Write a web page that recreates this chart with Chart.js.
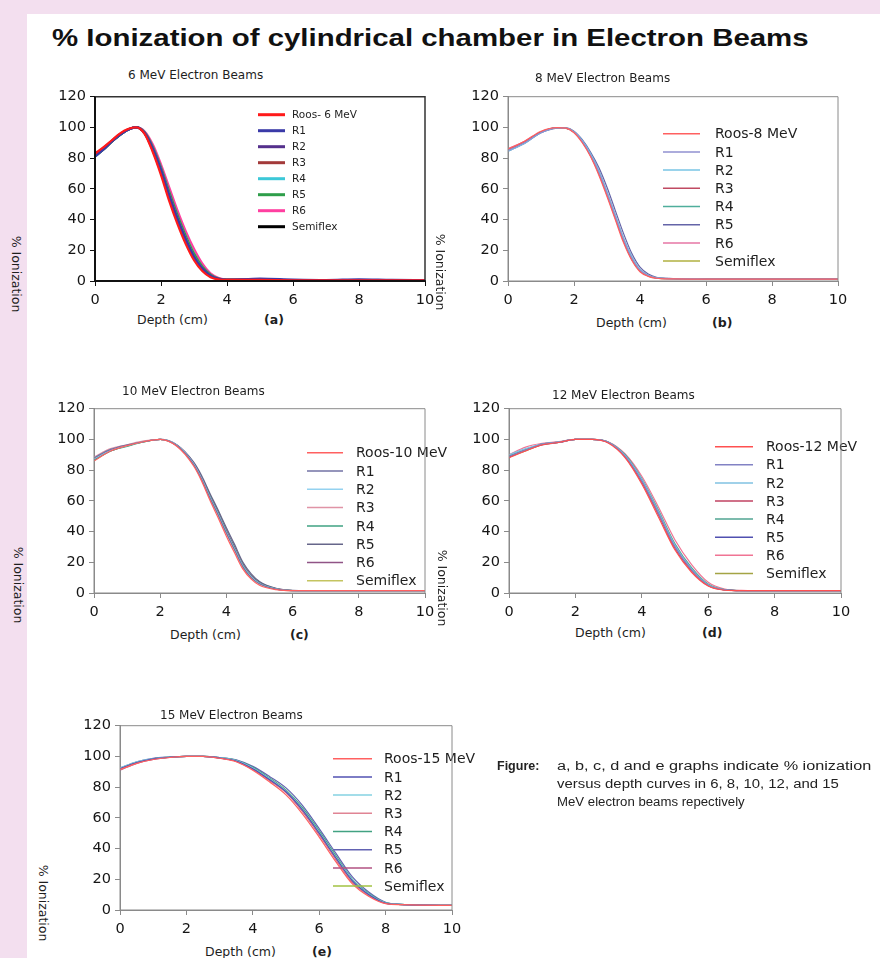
<!DOCTYPE html>
<html lang="en">
<head>
<meta charset="UTF-8">
<title>% Ionization of cylindrical chamber in Electron Beams</title>
<script src="https://cdn.jsdelivr.net/npm/chart.js"></script>
<style>
  html, body { margin: 0; padding: 0; }
  body {
    width: 880px; height: 958px; position: relative; overflow: hidden;
    background: #f3dfef; font-family: "DejaVu Sans", sans-serif; color: #1e1e1e;
  }
  .sheet { position: absolute; left: 27px; top: 14px; right: 0; bottom: 0; background: #fff; }
  canvas { position: absolute; }
  .t { position: absolute; white-space: nowrap; line-height: 1; }
  .main { font: bold 24px "Liberation Sans", Arial, sans-serif; color: #111; transform-origin: 0 50%; }
  .ptitle { font-size: 12px; }
  .xlab { font-size: 12.5px; }
  .tag { font-size: 12.5px; font-weight: bold; }
  .ylab { font-size: 12.5px; transform: translate(-50%, -50%) rotate(90deg); }
  .cap { font: 12px "Liberation Sans", Arial, sans-serif; color: #222; transform-origin: 0 50%; }
  .cap b { font-weight: bold; font-size: 12.5px; }
</style>
</head>
<body>
<div class="sheet"></div>

<canvas id="c6"></canvas>
<canvas id="c8"></canvas>
<canvas id="c10"></canvas>
<canvas id="c12"></canvas>
<canvas id="c15"></canvas>

<div class="t main" id="mainTitle" style="left:52px; top:24px;">% Ionization of cylindrical chamber in Electron Beams</div>

<div class="t ptitle" style="left:128px; top:69px;">6 MeV Electron Beams</div>
<div class="t ptitle" style="left:535px; top:72px;">8 MeV Electron Beams</div>
<div class="t ptitle" style="left:122px; top:385px;">10 MeV Electron Beams</div>
<div class="t ptitle" style="left:552px; top:389px;">12 MeV Electron Beams</div>
<div class="t ptitle" style="left:160px; top:709px;">15 MeV Electron Beams</div>

<div class="t xlab" style="left:137px; top:314px;">Depth (cm)</div>
<div class="t tag" style="left:264px; top:314px;">(a)</div>
<div class="t xlab" style="left:596px; top:317px;">Depth (cm)</div>
<div class="t tag" style="left:712px; top:317px;">(b)</div>
<div class="t xlab" style="left:170px; top:629px;">Depth (cm)</div>
<div class="t tag" style="left:290px; top:629px;">(c)</div>
<div class="t xlab" style="left:575px; top:627px;">Depth (cm)</div>
<div class="t tag" style="left:702px; top:627px;">(d)</div>
<div class="t xlab" style="left:205px; top:946px;">Depth (cm)</div>
<div class="t tag" style="left:312px; top:946px;">(e)</div>

<div class="t ylab" style="left:16px; top:274px;">% Ionization</div>
<div class="t ylab" style="left:440px; top:272px;">% Ionization</div>
<div class="t ylab" style="left:18px; top:585px;">% Ionization</div>
<div class="t ylab" style="left:442px; top:588px;">% Ionization</div>
<div class="t ylab" style="left:43px; top:903px;">% Ionization</div>

<div class="t cap" style="left:497px; top:759px;"><b>Figure:</b></div>
<div class="t cap fit" data-w="314" style="left:557px; top:759px;">a, b, c, d and e graphs indicate % ionization</div>
<div class="t cap fit" data-w="282" style="left:557px; top:777px;">versus depth curves in 6, 8, 10, 12, and 15</div>
<div class="t cap fit" data-w="188" style="left:557px; top:795px;">MeV electron beams repectively</div>

<script>
// ---- data (depth in cm, % ionization) ----
const seriesNames = ['R1', 'R2', 'R3', 'R4', 'R5', 'R6', 'Semiflex'];

const depth6 = [0, 0.25, 0.5, 0.75, 1, 1.25, 1.5, 1.75, 2, 2.25, 2.5, 2.75, 3, 3.25, 3.5, 3.75, 4, 5, 6, 7, 8, 9, 10];
const roos6 = [83, 87, 91.5, 96, 99, 100, 96, 84, 69, 52, 37, 24, 13.5, 6.5, 2.5, 1, 0.7, 0.7, 0.5, 0.5, 0.5, 0.5, 0.5];
const r1_6  = [81, 85.5, 90.5, 95, 98.5, 100, 96.5, 86, 72, 55, 40, 26.5, 15.5, 8, 3.3, 1.3, 0.8, 1.5, 0.9, 0.6, 1.1, 0.7, 0.6];
const r2_6  = [82, 86, 91, 95.5, 98.5, 100, 96.5, 86.5, 72.5, 56, 41, 27.5, 16, 8.3, 3.5, 1.4, 0.8, 0.9, 0.6, 0.5, 0.6, 0.5, 0.5];
const r3_6  = [82.5, 86.5, 91, 95.5, 98.8, 100, 96, 85, 70.5, 54, 39, 25.5, 14.5, 7.2, 3, 1.1, 0.8, 0.8, 0.5, 0.5, 0.5, 0.5, 0.5];
const r4_6  = [81.5, 86, 91, 95.5, 98.5, 100, 96.8, 86.5, 72.5, 56, 41, 27.5, 16, 8.2, 3.4, 1.3, 0.8, 0.8, 0.5, 0.5, 0.5, 0.5, 0.5];
const r5_6  = [81, 85.5, 90.5, 95, 98.5, 100, 97, 87.5, 74, 58, 43, 29.5, 18, 9.5, 4.2, 1.6, 0.9, 0.8, 0.5, 0.5, 0.5, 0.5, 0.5];
const r6_6  = [82, 86, 91, 95.5, 98.5, 100, 97.5, 89, 76, 61, 46, 32.5, 21, 11.5, 5, 2, 1, 0.8, 0.5, 0.5, 0.5, 0.5, 0.5];
const semi6 = [81.5, 85.5, 90.5, 95, 98.5, 100, 96.5, 86, 72, 55.5, 40.5, 27, 15.5, 7.8, 3.2, 1.2, 0.8, 0.8, 0.5, 0.5, 0.5, 0.5, 0.5];

const depth8 = [0, 0.5, 1, 1.5, 1.75, 2, 2.25, 2.5, 2.75, 3, 3.25, 3.5, 3.75, 4, 4.25, 4.5, 5, 6, 7, 8, 9, 10];
const roos8 = [86, 91, 97.5, 99.8, 99.5, 96.5, 90, 81, 69, 55, 40, 25, 13.5, 6, 3, 1.8, 1.4, 1.2, 1.2, 1.2, 1.2, 1.2];
const r1_8  = [85, 90, 96.5, 99.8, 99.6, 97, 91, 82, 71, 57, 42, 27, 15, 7, 3.5, 2, 1.5, 1.2, 1.2, 1.2, 1.2, 1.2];
const r2_8  = [84.5, 89.5, 96.5, 99.7, 99.6, 97.2, 91.5, 83, 72, 58, 43, 28, 16, 7.5, 3.8, 2.1, 1.5, 1.3, 1.2, 1.2, 1.2, 1.2];
const r3_8  = [85.5, 90.5, 97, 99.8, 99.5, 96.8, 90.5, 81.5, 70, 56, 41, 26, 14, 6.5, 3.2, 1.9, 1.5, 1.2, 1.2, 1.2, 1.2, 1.2];
const r4_8  = [85, 90, 96.8, 99.8, 99.6, 97, 91, 82.5, 71.5, 57.5, 42.5, 27.5, 15.5, 7.2, 3.6, 2, 1.5, 1.2, 1.2, 1.2, 1.2, 1.2];
const r5_8  = [84.5, 89.5, 96.5, 99.6, 99.7, 97.5, 92, 84, 74, 61, 46, 31, 18, 9, 4.5, 2.4, 1.6, 1.3, 1.2, 1.2, 1.2, 1.2];
const r6_8  = [86, 91, 97, 99.7, 99.6, 97.2, 91.5, 83, 72, 58, 43, 28, 16, 7.5, 3.6, 2, 1.5, 1.2, 1.2, 1.2, 1.2, 1.2];
const semi8 = [85, 90, 96.8, 99.8, 99.5, 97, 91, 82, 70.5, 56.5, 41.5, 26.5, 14.5, 6.8, 3.4, 1.9, 1.5, 1.2, 1.2, 1.2, 1.2, 1.2];

const depth10 = [0, 0.5, 1, 1.5, 2, 2.5, 3, 3.25, 3.5, 3.75, 4, 4.25, 4.5, 4.75, 5, 5.5, 6, 7, 8, 9, 10];
const roos10 = [86, 92.5, 96, 98.5, 100, 95.5, 83, 73, 60.5, 49, 37, 26, 15.5, 9, 5, 2.2, 1.5, 1.5, 1.5, 1.5, 1.5];
const r1_10  = [88, 93.5, 96.5, 98.5, 100, 96, 84, 74, 62, 51, 39, 28, 17, 10, 6, 2.5, 1.6, 1.5, 1.5, 1.5, 1.5];
const r2_10  = [87.5, 93, 96, 98.5, 100, 96.2, 84.5, 74.5, 62.5, 51.5, 39.5, 28.5, 17.5, 10.5, 6.2, 2.6, 1.6, 1.5, 1.5, 1.5, 1.5];
const r3_10  = [88.5, 94, 96.5, 99, 100, 96, 84, 74, 62, 51, 39, 28, 17, 10, 6, 2.5, 1.5, 1.5, 1.5, 1.5, 1.5];
const r4_10  = [86.5, 92.5, 95.5, 98.3, 100, 96, 84, 74.5, 63, 52, 40, 29, 18, 10.8, 6.5, 2.7, 1.6, 1.5, 1.5, 1.5, 1.5];
const r5_10  = [87, 92.5, 96, 98.5, 100, 96.5, 85.5, 76.5, 65, 54, 42.5, 31.5, 20, 12.5, 7.5, 3, 1.7, 1.5, 1.5, 1.5, 1.5];
const r6_10  = [87, 93, 96, 98.5, 100, 96.3, 85, 75.5, 64, 53, 41, 30, 19, 11.5, 7, 2.8, 1.6, 1.5, 1.5, 1.5, 1.5];
const semi10 = [86.5, 92.5, 95.8, 98.3, 100, 96, 84, 74, 62, 51, 39, 28, 17, 10, 6, 2.5, 1.5, 1.5, 1.5, 1.5, 1.5];

const depth12 = [0, 0.5, 1, 1.5, 2, 2.5, 3, 3.5, 4, 4.5, 5, 5.5, 6, 6.5, 7, 8, 9, 10];
const roos12 = [88, 92.5, 96.5, 98, 100, 100, 97.5, 88, 71, 49.5, 28, 13.5, 4.5, 1.8, 1.5, 1.5, 1.5, 1.5];
const r1_12  = [89, 93, 97, 98.2, 100, 100, 98, 89, 73, 52, 30, 15, 5, 2, 1.5, 1.5, 1.5, 1.5];
const r2_12  = [90, 94, 97, 98.2, 100, 100, 98, 89.5, 74, 53, 31, 15.5, 5.3, 2.1, 1.5, 1.5, 1.5, 1.5];
const r3_12  = [88.5, 93, 96.5, 98, 100, 100, 97.8, 88.5, 72, 51, 29, 14.5, 4.8, 2, 1.5, 1.5, 1.5, 1.5];
const r4_12  = [89.5, 93.5, 97, 98.2, 100, 100, 98.2, 90, 74.5, 54, 32, 16.5, 5.8, 2.2, 1.6, 1.5, 1.5, 1.5];
const r5_12  = [89, 93, 97, 98, 100, 100, 98, 89, 73.5, 52.5, 30.5, 15.2, 5.2, 2, 1.5, 1.5, 1.5, 1.5];
const r6_12  = [90, 95, 97.5, 98.5, 100, 100, 98.3, 90.5, 76, 56, 34.5, 18.5, 7, 2.6, 1.7, 1.5, 1.5, 1.5];
const semi12 = [88.5, 92.5, 96.5, 98, 100, 100, 98, 89.5, 74, 53, 31, 15.5, 5.2, 2, 1.5, 1.5, 1.5, 1.5];

const depth15 = [0, 0.5, 1, 1.5, 2, 2.5, 3, 3.5, 4, 4.5, 5, 5.5, 6, 6.5, 7, 7.5, 8, 8.5, 9, 10];
const roos15 = [91.5, 95.5, 98, 99.3, 100, 100, 98.8, 96.5, 91, 83.5, 75, 62.5, 47.5, 31.5, 17, 8.8, 4.2, 3.5, 3.2, 3];
const r1_15  = [92, 96, 98.4, 99.5, 100, 100, 99, 97, 92, 85, 77, 65, 50, 34, 19, 10, 4.5, 3.5, 3.2, 3];
const r2_15  = [92.5, 96.5, 98.6, 99.6, 100, 100, 99.2, 97.3, 92.5, 85.5, 77.5, 65.5, 50.5, 34.5, 19.5, 10.3, 4.6, 3.5, 3.2, 3];
const r3_15  = [91.5, 95.5, 98.2, 99.4, 100, 100, 99, 97, 92, 85, 76.5, 64.5, 49.5, 33.5, 18.5, 9.7, 4.4, 3.5, 3.2, 3];
const r4_15  = [92, 96.2, 98.5, 99.5, 100, 100, 99.2, 97.5, 93, 86, 78, 66.5, 51.5, 35.5, 20, 10.8, 4.8, 3.6, 3.2, 3];
const r5_15  = [92.5, 96.5, 98.8, 99.6, 100, 100, 99.3, 97.8, 93.5, 87, 79.5, 68, 53, 37, 21.5, 11.5, 5, 3.7, 3.3, 3];
const r6_15  = [91, 95.5, 98, 99.3, 100, 100, 98.8, 96.8, 91.5, 84.5, 76.5, 64, 49, 33, 18, 9.5, 4.3, 3.5, 3.2, 3];
const semi15 = [92, 96, 98.5, 99.5, 100, 100, 99, 97.2, 92.5, 86, 78, 66, 51, 35, 19.5, 10.2, 4.6, 3.5, 3.2, 3];

// ---- colours ----
const colors6  = ['#ff1a1a', '#3a3aa8', '#55308c', '#a33a3a', '#3cc8d8', '#2f9e4a', '#ff3fa0', '#000000'];
const colors8  = ['#ff6060', '#9090d0', '#78c4e4', '#c04a62', '#4fae9c', '#6464a8', '#e676a4', '#b0b040'];
const colors10 = ['#ff6060', '#7272a4', '#94d2f0', '#e094a6', '#3fa282', '#66668a', '#905486', '#c4c460'];
const colors12 = ['#ff5050', '#8282c4', '#80c2e2', '#c04262', '#50a492', '#5050b0', '#f07494', '#a4a444'];
const colors15 = ['#ff6060', '#5252b2', '#84d2e2', '#e08494', '#42a282', '#6262b2', '#b25282', '#a2c242'];

// ---- plugins ----
const framePlugin = {
  id: 'frame',
  afterDraw(chart, args, o) {
    const { left, top, right, bottom } = chart.chartArea;
    const ctx = chart.ctx;
    ctx.save();
    ctx.strokeStyle = o.trColor; ctx.lineWidth = o.trWidth;
    ctx.beginPath();
    ctx.moveTo(left, top); ctx.lineTo(right, top); ctx.lineTo(right, bottom);
    ctx.stroke();
    ctx.strokeStyle = o.lbColor; ctx.lineWidth = o.lbWidth;
    ctx.beginPath();
    ctx.moveTo(left, top); ctx.lineTo(left, bottom); ctx.lineTo(right, bottom);
    ctx.stroke();
    ctx.restore();
  }
};

// legend drawn inside the plot like the original
const boxLegend = {
  id: 'boxLegend',
  afterDatasetsDraw(chart, args, o) {
    const a = chart.chartArea, ctx = chart.ctx;
    ctx.save();
    ctx.font = o.font;
    ctx.textBaseline = 'middle';
    chart.data.datasets.forEach((ds, i) => {
      const y = a.top + o.y0 + i * o.dy;
      ctx.strokeStyle = ds.borderColor;
      ctx.lineWidth = o.lw;
      ctx.beginPath();
      ctx.moveTo(a.left + o.x1, y); ctx.lineTo(a.left + o.x2, y);
      ctx.stroke();
      ctx.fillStyle = '#1e1e1e';
      ctx.fillText(ds.label, a.left + o.tx, y + 1);
    });
    ctx.restore();
  }
};

// plot rect = [left, top, right, bottom] on the page
const panels = [
  { id: 'c6', rect: [95, 96, 425, 281], depth: depth6, series: [roos6, r1_6, r2_6, r3_6, r4_6, r5_6, r6_6, semi6],
    roos: 'Roos- 6 MeV', colors: colors6, lw: 2.2, heavy: true,
    legend: { x1: 163, x2: 190, tx: 197, y0: 18, dy: 16, lw: 3, font: '10.5px "DejaVu Sans"' } },
  { id: 'c8', rect: [508, 96, 838, 281], depth: depth8, series: [roos8, r1_8, r2_8, r3_8, r4_8, r5_8, r6_8, semi8],
    roos: 'Roos-8 MeV', colors: colors8, lw: 1.2,
    legend: { x1: 155, x2: 192, tx: 207, y0: 37, dy: 18.2, lw: 1.5, font: '14px "DejaVu Sans"' } },
  { id: 'c10', rect: [94, 408, 425, 593], depth: depth10, series: [roos10, r1_10, r2_10, r3_10, r4_10, r5_10, r6_10, semi10],
    roos: 'Roos-10 MeV', colors: colors10, lw: 1.2,
    legend: { x1: 213, x2: 249, tx: 262, y0: 44, dy: 18.3, lw: 1.5, font: '14px "DejaVu Sans"' } },
  { id: 'c12', rect: [509, 408, 841, 593], depth: depth12, series: [roos12, r1_12, r2_12, r3_12, r4_12, r5_12, r6_12, semi12],
    roos: 'Roos-12 MeV', colors: colors12, lw: 1.2,
    legend: { x1: 206, x2: 244, tx: 257, y0: 38, dy: 18.1, lw: 1.5, font: '14px "DejaVu Sans"' } },
  { id: 'c15', rect: [120, 725, 452, 910], depth: depth15, series: [roos15, r1_15, r2_15, r3_15, r4_15, r5_15, r6_15, semi15],
    roos: 'Roos-15 MeV', colors: colors15, lw: 1.2,
    legend: { x1: 213, x2: 252, tx: 264, y0: 33, dy: 18.2, lw: 1.5, font: '14px "DejaVu Sans"' } }
];

const PAD_L = 60, PAD_T = 12, PAD_R = 70, PAD_B = 30;

function makeChart(p) {
  const [L, T, R, B] = p.rect;
  const cv = document.getElementById(p.id);
  cv.width = (R - L) + PAD_L + PAD_R;
  cv.height = (B - T) + PAD_T + PAD_B;
  cv.style.left = (L - PAD_L) + 'px';
  cv.style.top = (T - PAD_T) + 'px';

  const axisColor = p.heavy ? '#111' : '#8a8a8a';
  const axisWidth = p.heavy ? 2 : 1;
  const tickFont = { family: 'DejaVu Sans', size: 14.5 };

  const names = [p.roos, ...seriesNames];
  const datasets = p.series.map((vals, i) => ({
    label: names[i],
    data: p.depth.map((d, j) => ({ x: d, y: vals[j] })),
    borderColor: p.colors[i],
    borderWidth: p.lw,
    pointRadius: 0,
    fill: false,
    cubicInterpolationMode: 'monotone'
  }));

  new Chart(cv, {
    type: 'line',
    data: { datasets },
    plugins: [framePlugin, boxLegend],
    options: {
      responsive: false,
      animation: false,
      events: [],
      layout: { padding: { left: 0, top: PAD_T, right: PAD_R, bottom: 0 } },
      scales: {
        x: {
          type: 'linear', min: 0, max: 10,
          afterFit: s => { s.height = PAD_B; },
          ticks: { stepSize: 2, color: '#151515', font: tickFont, padding: 6, maxRotation: 0 },
          grid: { drawOnChartArea: false, drawTicks: true, tickLength: 5, color: axisColor, lineWidth: 1 },
          border: { display: true, color: axisColor, width: axisWidth }
        },
        y: {
          min: 0, max: 120,
          afterFit: s => { s.width = PAD_L; },
          ticks: { stepSize: 20, color: '#151515', font: tickFont, padding: 4 },
          grid: { drawOnChartArea: false, drawTicks: true, tickLength: 5, color: axisColor, lineWidth: 1 },
          border: { display: true, color: axisColor, width: axisWidth }
        }
      },
      plugins: {
        legend: { display: false },
        tooltip: { enabled: false },
        frame: p.heavy
          ? { lbColor: '#111', lbWidth: 2, trColor: '#333', trWidth: 1.5 }
          : { lbColor: '#8a8a8a', lbWidth: 1, trColor: '#8a8a8a', trWidth: 1 },
        boxLegend: p.legend
      }
    }
  });
}

panels.forEach(makeChart);

// stretch the wide-set texts to the widths they have in the original
const mt = document.getElementById('mainTitle');
mt.style.transform = 'scaleX(' + (756 / mt.offsetWidth) + ')';
document.querySelectorAll('.fit').forEach(el => {
  el.style.transform = 'scaleX(' + (+el.dataset.w / el.offsetWidth) + ')';
});
</script>
</body>
</html>
